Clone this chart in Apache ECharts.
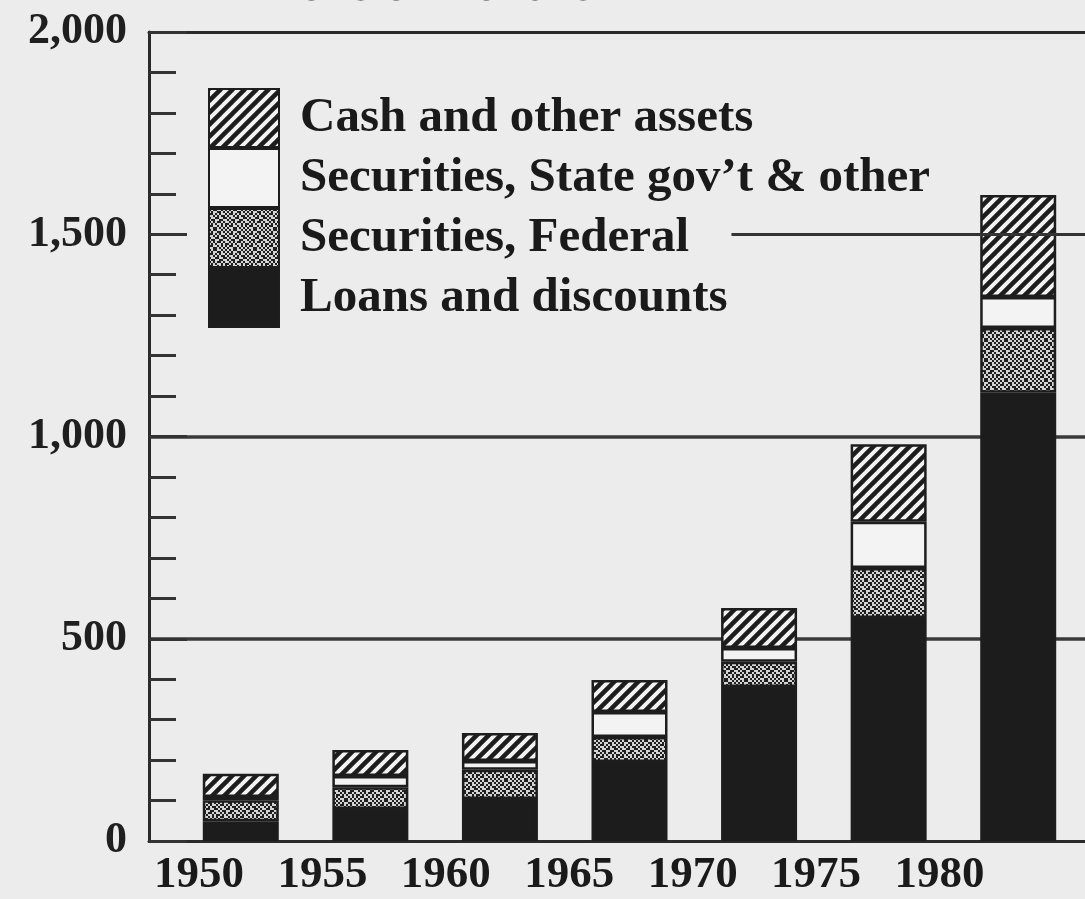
<!DOCTYPE html>
<html>
<head>
<meta charset="utf-8">
<script src="https://cdn.jsdelivr.net/npm/echarts@6/dist/echarts.min.js"></script>
<style>
  html, body { margin: 0; padding: 0; background: #ececec; }
  #main { width: 1085px; height: 899px; }
</style>
</head>
<body>
<div id="main"></div>
<script>
// values, billions of dollars
var years = [1950, 1955, 1960, 1965, 1970, 1975, 1980];
var loans = [49, 79, 104, 195, 381, 551, 1108];
var federal = [52, 54, 72, 62, 62, 124, 160];
var stateGov = [8, 28, 22, 62, 34, 114, 77];
var cash = [57, 64, 69, 79, 99, 192, 252];
var yTicks = [0, 500, 1000, 1500, 2000];

var FONT = '"Liberation Serif", "Times New Roman", serif';
var INK = '#1d1d1d';
var FRAME = { show: true, onZero: false, lineStyle: { color: '#2a2a2a', width: 3 } };

// hatch: "/" stripes
function hatchPattern() {
	var c = document.createElement('canvas');
	c.width = c.height = 12;
	var g = c.getContext('2d');
	g.fillStyle = '#f3f3f3';
	g.fillRect(0, 0, 12, 12);
	g.strokeStyle = INK;
	g.lineWidth = 4.5;
	for (var k = -1; k <= 1; k++) {
		g.beginPath();
		g.moveTo(k * 12 - 2, 14);
		g.lineTo(k * 12 + 14, -2);
		g.stroke();
	}
	return c;
}

// stipple for federal securities
function stipplePattern() {
	var rows = [
		'1011001010',
		'0100110101',
		'1101010010',
		'0010101101',
		'1001100110',
		'0110011001',
		'1010110100',
		'0101001011',
		'1100101010',
		'0011010101'
	];
	var c = document.createElement('canvas');
	c.width = c.height = 20;
	var g = c.getContext('2d');
	rows.forEach(function(r, y) {
		for (var x = 0; x < r.length; x++) {
			g.fillStyle = r[x] === '1' ? '#202020' : '#d4d4d4';
			g.fillRect(x * 2, y * 2, 2, 2);
		}
	});
	return c;
}

function barSeries(name, vals, fill) {
	return {
		name: name,
		type: 'bar',
		stack: 'assets',
		xAxisIndex: 2,
		yAxisIndex: 1,
		barWidth: 76,
		data: vals,
		itemStyle: { color: fill, borderColor: INK, borderWidth: 2.5 },
		emphasis: { disabled: true }
	};
}

var chart = echarts.init(document.getElementById('main'));

var series = [
	barSeries('Loans and discounts', loans, '#1c1c1c'),
	barSeries('Securities, Federal', federal, { image: stipplePattern(), repeat: 'repeat' }),
	barSeries('Securities, State gov\u2019t & other', stateGov, '#f3f3f3'),
	barSeries('Cash and other assets', cash, { image: hatchPattern(), repeat: 'repeat' }),
	{
		// the 1,500 line only shows to the right of the legend
		type: 'scatter',
		xAxisIndex: 0,
		yAxisIndex: 0,
		data: [],
		silent: true,
		markLine: {
			silent: true,
			symbol: 'none',
			label: { show: false },
			lineStyle: { color: '#333', width: 3, type: 'solid' },
			data: [[{ coord: [1969.3, 1500] }, { coord: [1983.17, 1500] }]]
		}
	}
];

var option = {
	backgroundColor: '#ececec',
	animation: false,
	title: {
		text: 'Billions of Dollars',
		left: 205,
		top: -43,
		textStyle: { fontFamily: FONT, fontSize: 50, fontWeight: 'bold', color: '#222' }
	},
	legend: {
		orient: 'vertical',
		left: 208,
		top: 88,
		padding: 0,
		itemGap: 0,
		itemWidth: 70,
		itemHeight: 58,
		icon: 'rect',
		selectedMode: false,
		data: [
			'Cash and other assets',
			'Securities, State gov\u2019t & other',
			'Securities, Federal',
			'Loans and discounts'
		],
		textStyle: {
			fontFamily: FONT, fontSize: 49, fontWeight: 'bold', color: '#1a1a1a',
			padding: [16, 0, 0, 16]
		}
	},
	grid: [{
		// frame, y scale and year labels; right side runs off the page
		left: 149,
		top: 32,
		width: 951,
		bottom: 58
	}, {
		// bars
		left: 176,
		top: 32,
		width: 907,
		bottom: 58
	}],
	xAxis: [{
		type: 'value',
		gridIndex: 0,
		min: 1946.45,
		max: 1983.17,
		axisLine: FRAME,
		axisTick: { show: false },
		axisLabel: { show: false },
		splitLine: { show: false }
	}, {
		// year labels sit a little left of the bars in the original
		type: 'value',
		gridIndex: 0,
		position: 'bottom',
		min: 1947.97,
		max: 1985.9,
		axisLine: { show: false },
		axisTick: { show: false },
		splitLine: { show: false },
		axisLabel: {
			customValues: years,
			formatter: function(v) { return String(v); },
			fontFamily: FONT, fontSize: 45, fontWeight: 'bold', color: '#1a1a1a',
			margin: 12
		}
	}, {
		type: 'category',
		gridIndex: 1,
		data: years,
		show: false
	}, {
		// top edge of the frame
		type: 'value',
		gridIndex: 0,
		position: 'top',
		min: 0,
		max: 1,
		axisLine: FRAME,
		axisTick: { show: false },
		axisLabel: { show: false },
		splitLine: { show: false }
	}],
	yAxis: [{
		type: 'value',
		gridIndex: 0,
		min: 0,
		max: 2000,
		interval: 500,
		axisLine: FRAME,
		axisTick: { show: true, inside: true, length: 38, lineStyle: { color: '#333', width: 3 } },
		minorTick: { show: true, splitNumber: 5, length: 27, lineStyle: { color: '#333', width: 3 } },
		splitLine: {
			show: true,
			lineStyle: { color: ['rgba(0,0,0,0)', '#3a3a3a', '#3a3a3a', 'rgba(0,0,0,0)', 'rgba(0,0,0,0)'], width: 3.5 }
		},
		axisLabel: {
			customValues: yTicks,
			formatter: function(v) { return v.toLocaleString('en-US'); },
			fontFamily: FONT, fontSize: 44, fontWeight: 'bold', color: '#1f1f1f',
			margin: 22
		}
	}, {
		type: 'value',
		gridIndex: 1,
		min: 0,
		max: 2000,
		show: false,
		splitLine: { show: false }
	}],
	series: series
};

chart.setOption(option);
</script>
</body>
</html>
